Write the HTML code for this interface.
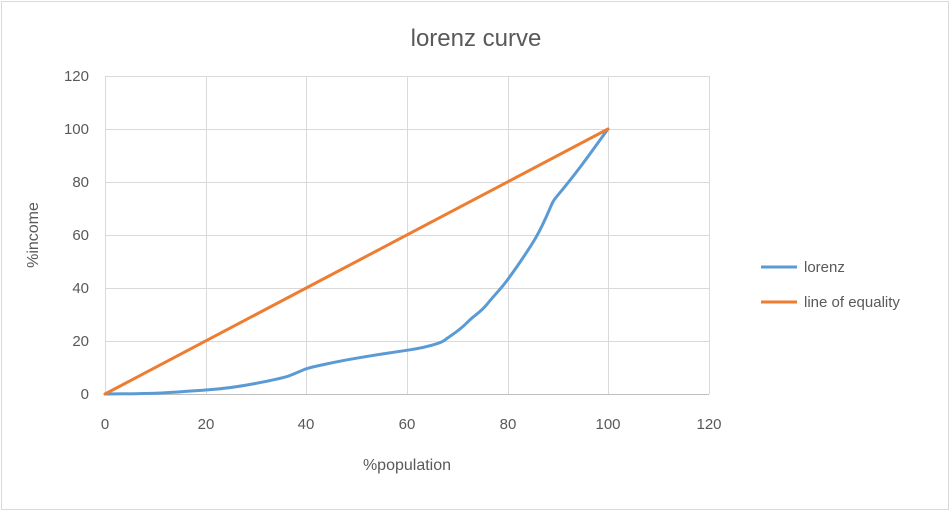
<!DOCTYPE html>
<html><head><meta charset="utf-8"><style>
html,body{margin:0;padding:0;background:#fff;}
svg{display:block;font-family:"Liberation Sans",sans-serif;}
</style></head><body>
<svg width="951" height="512" viewBox="0 0 951 512">
<rect x="1.5" y="1.5" width="947" height="508" fill="#fff" stroke="#d9d9d9"/>
<text x="476" y="46" text-anchor="middle" font-size="24" fill="#595959">lorenz curve</text>
<g stroke="#d9d9d9" stroke-width="1">
<line x1="105" y1="76.5" x2="709" y2="76.5"/>
<line x1="105" y1="129.5" x2="709" y2="129.5"/>
<line x1="105" y1="182.5" x2="709" y2="182.5"/>
<line x1="105" y1="235.5" x2="709" y2="235.5"/>
<line x1="105" y1="288.5" x2="709" y2="288.5"/>
<line x1="105" y1="341.5" x2="709" y2="341.5"/>
<line x1="206.5" y1="76" x2="206.5" y2="394"/>
<line x1="306.5" y1="76" x2="306.5" y2="394"/>
<line x1="407.5" y1="76" x2="407.5" y2="394"/>
<line x1="508.5" y1="76" x2="508.5" y2="394"/>
<line x1="608.5" y1="76" x2="608.5" y2="394"/>
<line x1="709.5" y1="76" x2="709.5" y2="394"/>
<line x1="105.5" y1="76" x2="105.5" y2="394"/>
</g>
<line x1="105" y1="394.5" x2="709" y2="394.5" stroke="#bfbfbf"/>
<g font-size="15" fill="#595959" text-anchor="end">
<text x="89" y="81">120</text><text x="89" y="134">100</text><text x="89" y="187">80</text>
<text x="89" y="240">60</text><text x="89" y="293">40</text><text x="89" y="346">20</text><text x="89" y="399">0</text>
</g>
<g font-size="15" fill="#595959" text-anchor="middle">
<text x="105" y="429">0</text><text x="206" y="429">20</text><text x="306" y="429">40</text>
<text x="407" y="429">60</text><text x="508" y="429">80</text><text x="608" y="429">100</text><text x="709" y="429">120</text>
</g>
<text x="407" y="470" text-anchor="middle" font-size="16" fill="#595959">%population</text>
<text transform="translate(38,235) rotate(-90)" text-anchor="middle" font-size="16" fill="#595959">%income</text>
<path d="M105,394 C130,394 140,393.5 155.3,393.2 S190,391 205.6,390 S240,386.5 255.9,383.4 S280,378.5 286.1,376.8 S300,371 306.2,368.8 S340,361 356.5,358.2 S395,352 406.8,350.3 S430,346 437,343.7 S444,340.5 447,338.4 S460,330 467.2,322.5 S480,313 487.3,303.9 S500,290 507.4,280 S525,255 532.6,243 S543,224 547.6,213.8 S552,202 557.7,195.3 S575,174 582.9,163.5 S600,140 608,129" fill="none" stroke="#5b9bd5" stroke-width="3" stroke-linejoin="round"/>
<line x1="105" y1="394" x2="608" y2="129" stroke="#ed7d31" stroke-width="3" stroke-linecap="round"/>
<line x1="761" y1="267" x2="797" y2="267" stroke="#5b9bd5" stroke-width="3"/>
<text x="804" y="272" font-size="15" fill="#595959">lorenz</text>
<line x1="761" y1="302" x2="797" y2="302" stroke="#ed7d31" stroke-width="3"/>
<text x="804" y="307" font-size="15" fill="#595959">line of equality</text>
</svg>
</body></html>
